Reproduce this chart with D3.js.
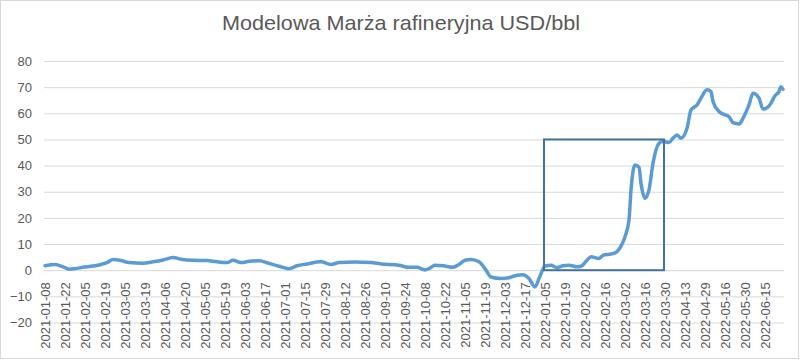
<!DOCTYPE html>
<html>
<head>
<meta charset="utf-8">
<script src="https://cdn.jsdelivr.net/npm/d3@7"></script>
<style>
  body { margin: 0; background: #fff; }
  svg { display: block; font-family: "Liberation Sans", Arial, sans-serif; }
</style>
</head>
<body>
<svg id="chart" width="803" height="360"></svg>
<script>

// category labels shown on the axis (every 10th trading day)
var tickLabels = [
  "2021-01-08", "2021-01-22", "2021-02-05", "2021-02-19", "2021-03-05", "2021-03-19",
  "2021-04-06", "2021-04-20", "2021-05-05", "2021-05-19", "2021-06-03", "2021-06-17",
  "2021-07-01", "2021-07-15", "2021-07-29", "2021-08-12", "2021-08-26", "2021-09-10",
  "2021-09-24", "2021-10-08", "2021-10-22", "2021-11-05", "2021-11-19", "2021-12-03",
  "2021-12-17", "2022-01-05", "2022-01-19", "2022-02-02", "2022-02-16", "2022-03-02",
  "2022-03-16", "2022-03-30", "2022-04-13", "2022-04-29", "2022-05-16", "2022-05-30",
  "2022-06-15"
];

var numCategories = 370;

// trading-day index of each reading
var dayIndex = [
  0, 5, 9, 12, 15, 19, 24, 28, 31, 34, 38, 42, 49, 54, 59, 64, 68, 74, 81, 86,
  91, 94, 98, 102, 107, 112, 117, 122, 126, 131, 138, 143, 147, 155, 163, 168, 177, 182, 186, 190,
  192, 195, 199, 204, 207, 210, 213, 217, 220, 223, 228, 232, 236, 239, 242, 245, 247, 250, 253, 256,
  259, 262, 266, 268, 271, 273, 277, 279, 282, 285, 288, 290, 292, 293, 295, 297, 298, 300, 302, 304,
  307, 309, 312, 314, 316, 318, 321, 323, 326, 328, 331, 333, 334, 337, 339, 342, 344, 347, 349, 352,
  354, 357, 359, 362, 363, 365, 367, 368, 369
];

// refining margin, USD/bbl
var margin = [
  1.7, 2.2, 1.3, 0.4, 0.6, 1.1, 1.6, 2.2, 2.9, 4.1, 3.7, 2.9, 2.7, 3.2, 3.9, 4.9, 4.2, 3.8, 3.7, 3.2,
  2.9, 3.8, 2.9, 3.4, 3.6, 2.6, 1.5, 0.6, 1.7, 2.4, 3.2, 2.2, 2.9, 3.1, 2.9, 2.4, 1.9, 1.1, 1.1, 0.1,
  0.6, 1.9, 1.7, 1.1, 2.2, 3.8, 4.1, 3.2, 0.6, -2.6, -3.2, -2.9, -1.9, -1.7, -3.2, -6.4, -3.2, 1.6, 1.9, 1.0,
  1.7, 1.9, 1.3, 1.5, 3.8, 5.1, 4.5, 5.7, 6.1, 6.6, 9.2, 12.8, 19.2, 30.7, 40.2, 39.3, 33.2, 27.5, 30.7, 40.9,
  48.5, 49.2, 48.8, 50.5, 51.7, 50.5, 54.3, 61.3, 63.2, 65.8, 69.0, 68.3, 64.5, 60.7, 59.7, 58.7, 56.4, 55.9, 58.1, 63.2,
  67.7, 65.8, 61.6, 62.8, 63.9, 66.7, 68.3, 70.2, 69.2
];

var yTicks = [ -20, -10, 0, 10, 20, 30, 40, 50, 60, 70, 80 ];

// highlighted window: 2022-01-05 .. 2022-03-30, 0..50
var boxFrom = 250, boxTo = 310, boxLow = 0, boxHigh = 50;

var svg = d3.select( "#chart" );

var plot = { left: 44, right: 784, top: 61, bottom: 322.5 };

var x = d3.scaleLinear()
  .domain( [ 0, numCategories ] )
  .range( [ plot.left, plot.right ] );

var y = d3.scaleLinear()
  .domain( [ -20, 80 ] )
  .range( [ plot.bottom, plot.top ] );

// chart area border
svg.append( "rect" )
  .attr( "x", 0.5 )
  .attr( "y", 0.5 )
  .attr( "width", 798 )
  .attr( "height", 358 )
  .attr( "fill", "#fff" )
  .attr( "stroke", "#d9d9d9" );

svg.append( "text" )
  .attr( "x", 401 )
  .attr( "y", 30 )
  .attr( "text-anchor", "middle" )
  .attr( "fill", "#595959" )
  .attr( "textLength", 358 )
  .attr( "lengthAdjust", "spacingAndGlyphs" )
  .style( "font-size", "21px" )
  .text( "Modelowa Marża rafineryjna USD/bbl" );

// gridlines + y labels
var yAxis = d3.axisLeft( y )
  .tickValues( yTicks )
  .tickSize( -( plot.right - plot.left ) )
  .tickPadding( 12 );

svg.append( "g" )
  .attr( "transform", "translate(" + plot.left + ",0)" )
  .call( yAxis )
  .call( g => g.select( ".domain" ).remove() )
  .call( g => g.selectAll( "line" ).attr( "stroke", "#d9d9d9" ) )
  .call( g => g.selectAll( "text" )
      .attr( "fill", "#595959" )
      .style( "font-size", "13px" )
      .style( "font-family", "'Liberation Sans', Arial, sans-serif" ) );

// category labels, rotated
var xAxis = d3.axisBottom( x )
  .tickValues( tickLabels.map( ( d, i ) => i * 10 + 0.5 ) )
  .tickFormat( ( d, i ) => tickLabels[ i ] )
  .tickSize( 0 );

svg.append( "g" )
  .attr( "transform", "translate(0," + y( 0 ) + ")" )
  .call( xAxis )
  .call( g => g.select( ".domain" ).remove() )
  .call( g => g.selectAll( "text" )
      .attr( "fill", "#595959" )
      .style( "font-size", "13px" )
      .style( "font-family", "'Liberation Sans', Arial, sans-serif" )
      .attr( "text-anchor", "end" )
      .attr( "transform", "rotate(-90)" )
      .attr( "x", -12 )
      .attr( "y", 0 )
      .attr( "dy", "0.35em" ) );

var series = dayIndex.map( ( d, i ) => ( { i: d, v: margin[ i ] } ) );

var line = d3.line()
  .x( d => x( d.i + 0.5 ) )
  .y( d => y( d.v ) )
  .curve( d3.curveMonotoneX );

svg.append( "path" )
  .datum( series )
  .attr( "d", line )
  .attr( "fill", "none" )
  .attr( "stroke", "#5b9bd5" )
  .attr( "stroke-width", 3.5 )
  .attr( "stroke-linecap", "round" )
  .attr( "stroke-linejoin", "round" );

svg.append( "rect" )
  .attr( "x", x( boxFrom ) )
  .attr( "y", y( boxHigh ) )
  .attr( "width", x( boxTo ) - x( boxFrom ) )
  .attr( "height", y( boxLow ) - y( boxHigh ) )
  .attr( "fill", "none" )
  .attr( "stroke", "#41719c" )
  .attr( "stroke-width", 2 );

</script>
</body>
</html>
